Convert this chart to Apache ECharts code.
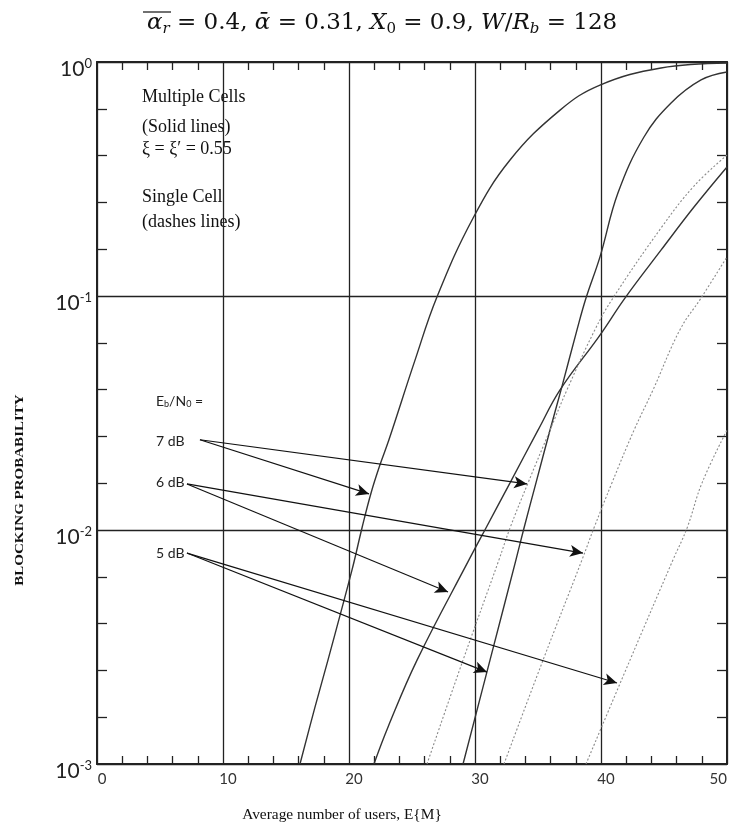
<!DOCTYPE html>
<html>
<head>
<meta charset="utf-8">
<script src="https://cdn.jsdelivr.net/npm/echarts@6/dist/echarts.min.js"></script>
<style>
  html, body { margin: 0; padding: 0; background: #fff; overflow: hidden; }
  #chart { width: 735px; height: 829px; }
</style>
</head>
<body>
<div id="chart"></div>
<script>
// axis ticks
const xTicks = [0, 10, 20, 30, 40, 50]
const yMin = 0.001
const yMax = 1
const decades = [-3, 0]

// multiple cells (solid lines)
const multi7X = [16.11, 17.30, 18.33, 20.24, 21.03, 21.75, 22.46, 23.17, 25.24, 26.98, 29.84, 32.78, 36.75, 39.92, 44.76, 50]
const multi7Y = [0.001, 0.00175, 0.00278, 0.00675, 0.0102, 0.0144, 0.019, 0.0243, 0.0532, 0.099, 0.215, 0.381, 0.623, 0.797, 0.943, 0.99]
const multi6X = [21.98, 23.10, 25.40, 29.52, 30.87, 32.78, 35.0, 36.75, 39.92, 41.90, 44.76, 47.38, 50]
const multi6Y = [0.001, 0.00144, 0.00278, 0.00745, 0.0102, 0.0159, 0.0267, 0.0397, 0.0681, 0.098, 0.157, 0.24, 0.356]
const multi5X = [29.05, 31.19, 33.25, 33.89, 34.84, 35.95, 36.83, 38.10, 38.81, 39.92, 41.35, 43.41, 45.56, 47.94, 50]
const multi5Y = [0.001, 0.00278, 0.00745, 0.0102, 0.0159, 0.0267, 0.0397, 0.0718, 0.098, 0.147, 0.276, 0.478, 0.668, 0.838, 0.906]

// single cell (dotted lines)
const single7X = [26.19, 29.05, 31.90, 32.78, 34.21, 35.95, 37.30, 39.52, 40.95, 44.76, 47.38, 50]
const single7Y = [0.001, 0.00278, 0.00745, 0.0102, 0.0159, 0.0267, 0.0397, 0.0718, 0.098, 0.195, 0.295, 0.4]
const single6X = [32.30, 35.40, 38.49, 39.44, 40.87, 42.62, 44.13, 46.27, 47.94, 50]
const single6Y = [0.001, 0.00278, 0.00745, 0.0102, 0.0159, 0.0267, 0.0397, 0.0718, 0.098, 0.147]
const single5X = [38.81, 42.30, 45.71, 46.83, 48.02, 50]
const single5Y = [0.001, 0.00278, 0.00745, 0.0102, 0.0159, 0.0267]

// Eb/N0 arrows: start (label) -> end (curve)
const arrowFrom = [[8.17, 0.0243], [8.17, 0.0243], [7.14, 0.01573], [7.14, 0.01573], [7.14, 0.00797], [7.14, 0.00797]]
const arrowTo = [[21.59, 0.01426], [34.13, 0.01573], [27.86, 0.00543], [38.57, 0.00797], [30.95, 0.00247], [41.27, 0.00222]]

const zip = (xs, ys) => xs.map((x, i) => [x, ys[i]])

const chart = echarts.init(document.getElementById('chart'))

const ink = '#222'
const solidStyle = { color: '#333', width: 1.4 }
const dotStyle = { color: '#8a8a8a', width: 1.1, type: [2, 2] }
const tickLine = { color: ink, width: 1.3 }

const xAxisBase = {
  type: 'value',
  min: xTicks[0],
  max: xTicks[xTicks.length - 1],
  interval: 10,
  axisLine: { show: true, onZero: false, lineStyle: { color: ink, width: 2 } },
  axisTick: { show: false, inside: true },
  minorTick: { show: true, splitNumber: 5, length: 8, lineStyle: tickLine }
}
// plain (exponent) axis used only to draw evenly spaced minor ticks per decade
const tickAxis = pos => ({
  type: 'value',
  position: pos,
  min: decades[0],
  max: decades[1],
  interval: 1,
  axisLine: { show: false, onZero: false },
  axisTick: { show: false, inside: true },
  minorTick: { show: true, splitNumber: 5, length: 10, lineStyle: tickLine },
  splitLine: { show: false },
  axisLabel: { show: false }
})

const serif = '"Liberation Serif", "DejaVu Serif", serif'
const sans = 'Lato, "Open Sans", sans-serif'
const mathFont = '"DejaVu Serif", serif'

const option = {
  animation: false,
  backgroundColor: '#fff',
  title: {
    left: 142,
    top: 5,
    text: '{it|α}{sub|r}{n| = 0.4, }{it|ᾱ}{n| = 0.31, }{it|X}{sub0|0}{n| = 0.9, }{it|W}{n|/}{it|R}{sub|b}{n| = 128}',
    textStyle: {
      fontWeight: 'normal',
      rich: {
        it: { fontFamily: mathFont, fontStyle: 'italic', fontWeight: 'normal', fontSize: 23, color: '#111' },
        n: { fontFamily: mathFont, fontWeight: 'normal', fontSize: 23, color: '#111' },
        sub: { fontFamily: mathFont, fontStyle: 'italic', fontWeight: 'normal', fontSize: 15, color: '#111', padding: [12, 0, 0, 0] },
        sub0: { fontFamily: mathFont, fontWeight: 'normal', fontSize: 15, color: '#111', padding: [12, 0, 0, 0] }
      }
    }
  },
  grid: { left: 97, right: 8, top: 62, bottom: 65, outerBoundsMode: 'none' },
  xAxis: [
    Object.assign({}, xAxisBase, {
      position: 'bottom',
      splitLine: { show: true, lineStyle: tickLine },
      axisLabel: { color: '#333', fontSize: 15, fontFamily: sans, margin: 8, padding: [0, 0, 0, 10], alignMaxLabel: 'right' }
    }),
    Object.assign({}, xAxisBase, {
      position: 'top',
      splitLine: { show: false },
      axisLabel: { show: false }
    })
  ],
  yAxis: [
    {
      type: 'log',
      logBase: 10,
      min: yMin,
      max: yMax,
      position: 'left',
      axisLine: { show: true, onZero: false, lineStyle: { color: ink, width: 2 } },
      axisTick: { show: false },
      minorTick: { show: false },
      splitLine: { show: true, lineStyle: tickLine },
      axisLabel: {
        margin: 5,
        padding: [14, 0, 0, 0],
        formatter: v => '{b|10}{s|' + Math.round(Math.log10(v)) + '}',
        rich: {
          b: { fontFamily: sans, fontSize: 21, color: '#222' },
          s: { fontFamily: sans, fontSize: 13, color: '#222', padding: [0, 0, 10, 0] }
        }
      }
    },
    Object.assign(tickAxis('right'), { axisLine: { show: true, onZero: false, lineStyle: { color: ink, width: 2 } } }),
    tickAxis('left')
  ],
  series: [
    {
      name: 'multi 7 dB', type: 'line', smooth: 0.4, showSymbol: false, silent: true,
      lineStyle: solidStyle, data: zip(multi7X, multi7Y),
      markLine: {
        silent: true,
        symbol: ['none', 'arrow'],
        symbolSize: [9, 13],
        label: { show: false },
        lineStyle: { color: '#111', width: 1.2, type: 'solid' },
        data: arrowFrom.map((p, i) => [{ coord: p }, { coord: arrowTo[i] }])
      }
    },
    { name: 'multi 6 dB', type: 'line', smooth: 0.4, showSymbol: false, silent: true, lineStyle: solidStyle, data: zip(multi6X, multi6Y) },
    { name: 'multi 5 dB', type: 'line', smooth: 0.4, showSymbol: false, silent: true, lineStyle: solidStyle, data: zip(multi5X, multi5Y) },
    { name: 'single 7 dB', type: 'line', smooth: 0.4, showSymbol: false, silent: true, lineStyle: dotStyle, data: zip(single7X, single7Y) },
    { name: 'single 6 dB', type: 'line', smooth: 0.4, showSymbol: false, silent: true, lineStyle: dotStyle, data: zip(single6X, single6Y) },
    { name: 'single 5 dB', type: 'line', smooth: 0.4, showSymbol: false, silent: true, lineStyle: dotStyle, data: zip(single5X, single5Y) }
  ],
  graphic: [
    // overline over alpha_r in the title
    { type: 'line', shape: { x1: 143, y1: 12, x2: 171, y2: 12 }, style: { stroke: '#111', lineWidth: 1.2 } },
    // axis names
    {
      type: 'text', x: 20, y: 490, rotation: Math.PI / 2, scaleX: 1.25,
      style: { text: 'BLOCKING PROBABILITY', font: 'bold 12px ' + serif, fill: '#111', align: 'center', verticalAlign: 'middle' }
    },
    {
      type: 'text', x: 342, y: 815, scaleX: 1.1,
      style: { text: 'Average number of users, E{M}', font: '14px ' + serif, fill: '#111', align: 'center', verticalAlign: 'middle' }
    },
    // legend notes
    { type: 'text', x: 142, y: 97, style: { text: 'Multiple Cells', font: '18px ' + serif, fill: '#111', verticalAlign: 'middle' } },
    { type: 'text', x: 142, y: 127, style: { text: '(Solid lines)', font: '18px ' + serif, fill: '#111', verticalAlign: 'middle' } },
    { type: 'text', x: 142, y: 149, style: { text: 'ξ = ξ′ = 0.55', font: '18px ' + serif, fill: '#111', verticalAlign: 'middle' } },
    { type: 'text', x: 142, y: 197, style: { text: 'Single Cell', font: '18px ' + serif, fill: '#111', verticalAlign: 'middle' } },
    { type: 'text', x: 142, y: 222, style: { text: '(dashes lines)', font: '18px ' + serif, fill: '#111', verticalAlign: 'middle' } },
    {
      type: 'text', x: 156, y: 401,
      style: {
        text: '{a|E}{s|b}{a|/N}{s|0}{a| =}',
        verticalAlign: 'middle',
        rich: {
          a: { fontFamily: sans, fontSize: 14, fill: '#222' },
          s: { fontFamily: sans, fontSize: 9, fill: '#222', padding: [6, 0, 0, 0] }
        }
      }
    },
    { type: 'text', x: 156, y: 441, style: { text: '7 dB', font: '14px ' + sans, fill: '#222', verticalAlign: 'middle' } },
    { type: 'text', x: 156, y: 482, style: { text: '6 dB', font: '14px ' + sans, fill: '#222', verticalAlign: 'middle' } },
    { type: 'text', x: 156, y: 553, style: { text: '5 dB', font: '14px ' + sans, fill: '#222', verticalAlign: 'middle' } }
  ]
}

chart.setOption(option)
</script>
</body>
</html>
